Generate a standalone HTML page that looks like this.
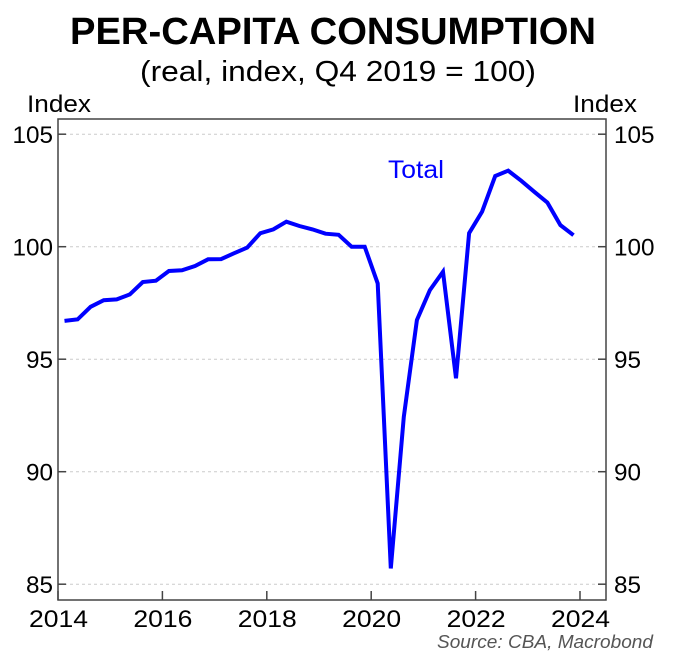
<!DOCTYPE html>
<html><head><meta charset="utf-8"><style>
body{margin:0;background:#fff;font-family:"Liberation Sans",Arial,sans-serif}
svg text{font-family:"Liberation Sans",Arial,sans-serif}
</style></head><body>
<svg id="chart" width="677" height="662" xmlns="http://www.w3.org/2000/svg">
<text x="70" y="44" textLength="526" lengthAdjust="spacingAndGlyphs" font-size="38" font-weight="bold">PER-CAPITA CONSUMPTION</text>
<text x="140" y="81" textLength="396" lengthAdjust="spacingAndGlyphs" font-size="29">(real, index, Q4 2019 = 100)</text>
<text x="27" y="112" textLength="64" lengthAdjust="spacingAndGlyphs" font-size="24">Index</text>
<text x="573" y="112" textLength="64" lengthAdjust="spacingAndGlyphs" font-size="24">Index</text>
<g id="grid"></g><g id="axes"></g><g id="series"></g>
<text x="388" y="178" textLength="56" lengthAdjust="spacingAndGlyphs" font-size="25" fill="#0000ff">Total</text>
<text x="437" y="648" textLength="216" lengthAdjust="spacingAndGlyphs" font-size="18" font-style="italic" fill="#555">Source: CBA, Macrobond</text>
</svg>
<script>
const yTicks=[85,90,95,100,105];
const xTicks=[2014,2016,2018,2020,2022,2024];
const startYear=2014;
const values=[96.70,96.77,97.33,97.62,97.66,97.88,98.43,98.49,98.92,98.95,99.14,99.44,99.45,99.71,99.96,100.6,100.77,101.11,100.92,100.77,100.58,100.53,100.0,100.0,
98.37,85.7,92.44,96.74,98.07,98.89,94.15,100.6,101.56,103.14,103.38,102.93,102.44,101.96,100.96,100.51];
const L=58,R=606,T=119,B=600;
const y=v=>246.7-(v-100)*22.5;
const x=t=>58+(t-2014)*52.2;
const NS="http://www.w3.org/2000/svg";
function mk(tag,attrs,parent){const e=document.createElementNS(NS,tag);for(const k in attrs)e.setAttribute(k,attrs[k]);parent.appendChild(e);return e;}
const grid=document.getElementById('grid'),axes=document.getElementById('axes'),series=document.getElementById('series');
yTicks.forEach(v=>{
 const w=String(v).length*13.5;
 const g=mk('line',{x1:L,x2:R,y1:y(v),y2:y(v),stroke:'#ccc','stroke-dasharray':'3,3','stroke-width':1},grid);
 
 
 const t1=mk('line',{x1:L,x2:L+8,y1:y(v),y2:y(v),stroke:'#444','stroke-width':1.5},axes);
 
 
 const t2=mk('line',{x1:R-8,x2:R,y1:y(v),y2:y(v),stroke:'#444','stroke-width':1.5},axes);
 
 
 const l=mk('text',{x:L-5-w,y:y(v)+9,'font-size':24,textLength:w,lengthAdjust:'spacingAndGlyphs'},axes);l.textContent=v;
 
 
 const r=mk('text',{x:R+8,y:y(v)+9,'font-size':24,textLength:w,lengthAdjust:'spacingAndGlyphs'},axes);r.textContent=v;
 
 
});
xTicks.forEach(t=>{
 const k=mk('line',{x1:x(t),x2:x(t),y1:B,y2:B-9,stroke:'#444','stroke-width':1.5},axes);
 
 
 const l=mk('text',{x:x(t)-29,y:B+27,'font-size':24,textLength:59,lengthAdjust:'spacingAndGlyphs'},axes);l.textContent=t;
 
 
});
const box=mk('rect',{x:L,y:T,width:R-L,height:B-T,fill:'none',stroke:'#444','stroke-width':1.5},axes);


const pts=values.map((v,i)=>x(startYear+0.125+i*0.25).toFixed(1)+','+y(v).toFixed(1)).join(' ');
const line=mk('polyline',{points:pts,fill:'none',stroke:'#0000ff','stroke-width':4,'stroke-linejoin':'miter'},series);


</script>
</body></html>
